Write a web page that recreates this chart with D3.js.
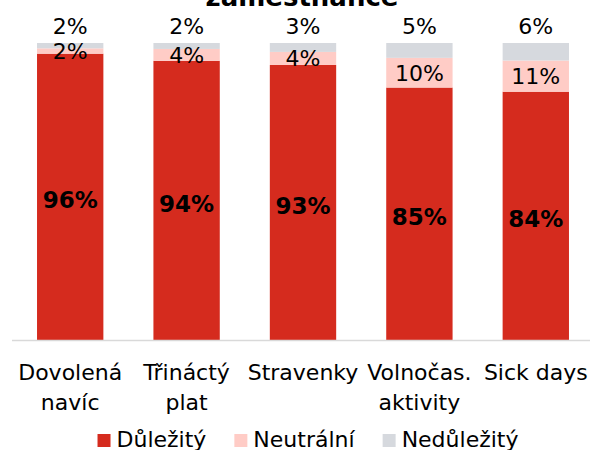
<!DOCTYPE html>
<html>
<head>
<meta charset="utf-8">
<script src="https://cdn.jsdelivr.net/npm/d3@7"></script>
<style>
  html, body { margin: 0; padding: 0; background: #fff; }
  text { font-family: "DejaVu Sans", sans-serif; fill: #000; }
</style>
</head>
<body>
<div id="chart"></div>
<script>
// chart data
const categories = ['Dovolená navíc', 'Třináctý plat', 'Stravenky', 'Volnočas. aktivity', 'Sick days'];
const categoryLines = [['Dovolená', 'navíc'], ['Třináctý', 'plat'], ['Stravenky'], ['Volnočas.', 'aktivity'], ['Sick days']];
const important = [96.4, 94.0, 92.6, 85.0, 83.6];   // Důležitý
const neutral = [1.8, 4.0, 4.4, 10.0, 10.5];        // Neutrální
const unimportant = [1.8, 2.0, 3.0, 5.0, 5.9];      // Nedůležitý
const seriesNames = ['Důležitý', 'Neutrální', 'Nedůležitý'];
const seriesColors = ['#D52B1E', '#FFCCC6', '#D6D9DE'];
const title = 'zaměstnance';

const width = 590;
const height = 450;

const svg = d3.select('#chart')
  .append('svg')
  .attr('width', width)
  .attr('height', height);

// title (only the last line fits on the canvas)
svg.append('text')
  .attr('x', 302)
  .attr('y', 6)
  .attr('text-anchor', 'middle')
  .style('font-size', '26px')
  .style('font-weight', 'bold')
  .text(title);

const x = d3.scaleBand()
  .domain(categories)
  .range([12, 594])
  .paddingInner(0.43)
  .paddingOuter(0.215);

const y = d3.scaleLinear()
  .domain([0, 100])
  .range([340, 43]);

// build rows for stacking
const rows = categories.map((c, i) => ({
  category: c,
  'Důležitý': important[i],
  'Neutrální': neutral[i],
  'Nedůležitý': unimportant[i]
}));

const stack = d3.stack().keys(seriesNames);
const layers = stack(rows);

const groups = svg.selectAll('g.layer')
  .data(layers)
  .enter()
  .append('g')
  .attr('class', 'layer')
  .attr('fill', (d, i) => seriesColors[i]);

groups.selectAll('rect')
  .data(d => d)
  .enter()
  .append('rect')
  .attr('x', d => x(d.data.category))
  .attr('y', d => y(d[1]))
  .attr('width', x.bandwidth())
  .attr('height', d => y(d[0]) - y(d[1]));

// axis line
svg.append('line')
  .attr('x1', 12)
  .attr('x2', width)
  .attr('y1', y(0) + 0.5)
  .attr('y2', y(0) + 0.5)
  .attr('stroke', '#d9d9d9')
  .attr('stroke-width', 1.5);

// data labels
layers.forEach((layer, li) => {
  svg.selectAll('text.lbl' + li)
    .data(layer)
    .enter()
    .append('text')
    .attr('class', 'lbl' + li)
    .attr('x', d => x(d.data.category) + x.bandwidth() / 2)
    .attr('y', d => li === 2 ? y(d[1]) - 17 : y((d[0] + d[1]) / 2) + (li === 0 ? 3 : 0))
    .attr('dy', '0.36em')
    .attr('text-anchor', 'middle')
    .style('font-size', li === 0 ? '23px' : '22px')
    .style('font-weight', li === 0 ? 'bold' : 'normal')
    .text(d => Math.round(d[1] - d[0]) + '%');
});

// category labels
categories.forEach((c, i) => {
  const t = svg.append('text')
    .attr('x', x(c) + x.bandwidth() / 2)
    .attr('y', 380)
    .attr('text-anchor', 'middle')
    .style('font-size', '22px');
  categoryLines[i].forEach((line, j) => {
    t.append('tspan')
      .attr('x', x(c) + x.bandwidth() / 2)
      .attr('dy', j === 0 ? 0 : 30)
      .text(line);
  });
});

// legend
const legend = svg.append('g');
let lx = 0;
seriesNames.forEach((name, i) => {
  const item = legend.append('g').attr('transform', `translate(${lx},0)`);
  item.append('rect')
    .attr('x', 0)
    .attr('y', -13)
    .attr('width', 13)
    .attr('height', 13)
    .attr('fill', seriesColors[i]);
  const t = item.append('text')
    .attr('x', 19)
    .attr('y', 0)
    .style('font-size', '22px')
    .text(name);
  lx += 19 + t.node().getComputedTextLength() + 28;
});
const legendWidth = lx - 28;
legend.attr('transform', `translate(${308 - legendWidth / 2},447)`);
</script>
</body>
</html>
